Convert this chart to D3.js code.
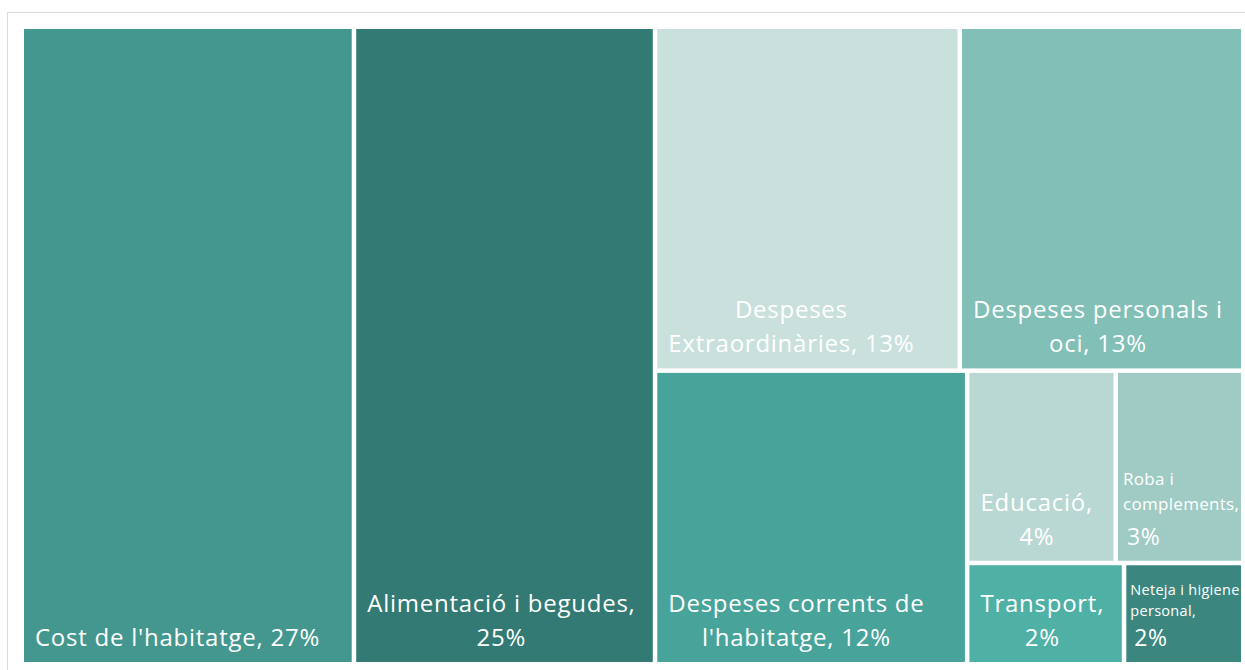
<!DOCTYPE html>
<html>
<head>
<meta charset="utf-8">
<script src="https://cdn.jsdelivr.net/npm/d3@7"></script>
<style>
  html, body { margin: 0; padding: 0; background: #fff; }
  svg { display: block; }
</style>
</head>
<body>
<svg id="chart" width="1245" height="670"></svg>
<script>
// ---- Data ----
const categories = [
  "Cost de l'habitatge",
  "Alimentació i begudes",
  "Despeses Extraordinàries",
  "Despeses personals i oci",
  "Despeses corrents de l'habitatge",
  "Educació",
  "Roba i complements",
  "Transport",
  "Neteja i higiene personal"
];
const values = [27.2, 24.65, 13.46, 12.52, 11.77, 3.67, 3.15, 2.04, 1.55];
const percentLabels = ["27%", "25%", "13%", "13%", "12%", "4%", "3%", "2%", "2%"];
// label text split into lines as shown in the chart
const labelLines = [
  ["Cost de l'habitatge, 27%"],
  ["Alimentació i begudes,", "25%"],
  ["Despeses", "Extraordinàries, 13%"],
  ["Despeses personals i", "oci, 13%"],
  ["Despeses corrents de", "l'habitatge, 12%"],
  ["Educació,", "4%"],
  ["Roba i", "complements,", "3%"],
  ["Transport,", "2%"],
  ["Neteja i higiene", "personal,", "2%"]
];
// grouping used by the treemap layout (parent of each category)
const parents = ["root", "root", "top", "top", "bottom", "smallTop", "smallTop", "smallBottom", "smallBottom"];
const groupIds = ["root", "rest", "top", "bottom", "small", "smallTop", "smallBottom"];
const groupParents = [null, "root", "rest", "rest", "bottom", "small", "small"];
const colors = ["#44978e", "#327a73", "#cae0dd", "#81bfb7", "#48a49b", "#b9d8d3", "#9fcbc4", "#4fb0a6", "#3b877f"];

// ---- Build hierarchy ----
const rows = groupIds.map((id, i) => ({ id, parent: groupParents[i] }))
  .concat(categories.map((c, i) => ({ id: c, parent: parents[i], value: values[i], idx: i })));

const sortKey = d => {
  if (d.data.idx !== undefined) return d.data.idx;
  return { rest: 2, top: 0, bottom: 1, small: 10, smallTop: 0, smallBottom: 1 }[d.data.id] || 0;
};

const root = d3.stratify().id(d => d.id).parentId(d => d.parent)(rows)
  .sum(d => d.value || 0)
  .sort((a, b) => sortKey(a) - sortKey(b));

const tile = (node, x0, y0, x1, y1) =>
  (x1 - x0 > y1 - y0 ? d3.treemapDice : d3.treemapSlice)(node, x0, y0, x1, y1);

d3.treemap()
  .tile(tile)
  .size([1217, 633])
  .paddingInner(4.5)
  .round(false)(root);

const svg = d3.select("#chart");

// outer frame
svg.append("rect")
  .attr("x", 7.5).attr("y", 12.5)
  .attr("width", 1260).attr("height", 680)
  .attr("fill", "none").attr("stroke", "#d9d9d9").attr("stroke-width", 1);

const leaves = root.leaves();

const g = svg.append("g").attr("transform", "translate(24,29)")
  .selectAll("g").data(leaves).join("g");

g.append("rect")
  .attr("x", d => d.x0).attr("y", d => d.y0)
  .attr("width", d => d.x1 - d.x0).attr("height", d => d.y1 - d.y0)
  .attr("fill", d => colors[d.data.idx]);

const fontFamily = "'Open Sans', Lato, sans-serif";

g.each(function(d) {
  const i = d.data.idx;
  const lines = labelLines[i];
  const w = d.x1 - d.x0;
  const small = w < 130;
  const tiny = w < 120;
  const nameSize = small ? (tiny ? 14.5 : 17) : 24;
  const pctSize = small ? (tiny ? 23 : 23) : 24;
  const nameLH = small ? (tiny ? 21 : 25) : 34;
  const spacing = small ? 0.3 : 0.75;
  const sel = d3.select(this);
  const n = lines.length;
  const bottom = d.y1 - 16;
  const texts = lines.map((line, k) => {
    const isPct = small && k === n - 1;
    const fs = isPct ? pctSize : nameSize;
    let y;
    if (k === n - 1) y = bottom;
    else {
      const lastGap = small ? (tiny ? 30 : 35) : nameLH;
      y = bottom - lastGap - (n - 2 - k) * nameLH;
    }
    return sel.append("text")
      .attr("y", y)
      .attr("fill", "#ffffff")
      .attr("font-family", fontFamily)
      .attr("font-size", fs)
      .attr("letter-spacing", isPct ? 0.5 : spacing)
      .text(line);
  });
  const widths = texts.map(t => t.node().getComputedTextLength());
  const blockW = d3.max(widths);
  const left = d.x0 + (small ? (tiny ? 4 : 5) : 11);
  texts.forEach((t, k) => {
    if (small) t.attr("x", left + (k === n - 1 ? 4 : 0));
    else t.attr("x", left + (blockW - widths[k]) / 2);
  });
});
</script>
</body>
</html>
